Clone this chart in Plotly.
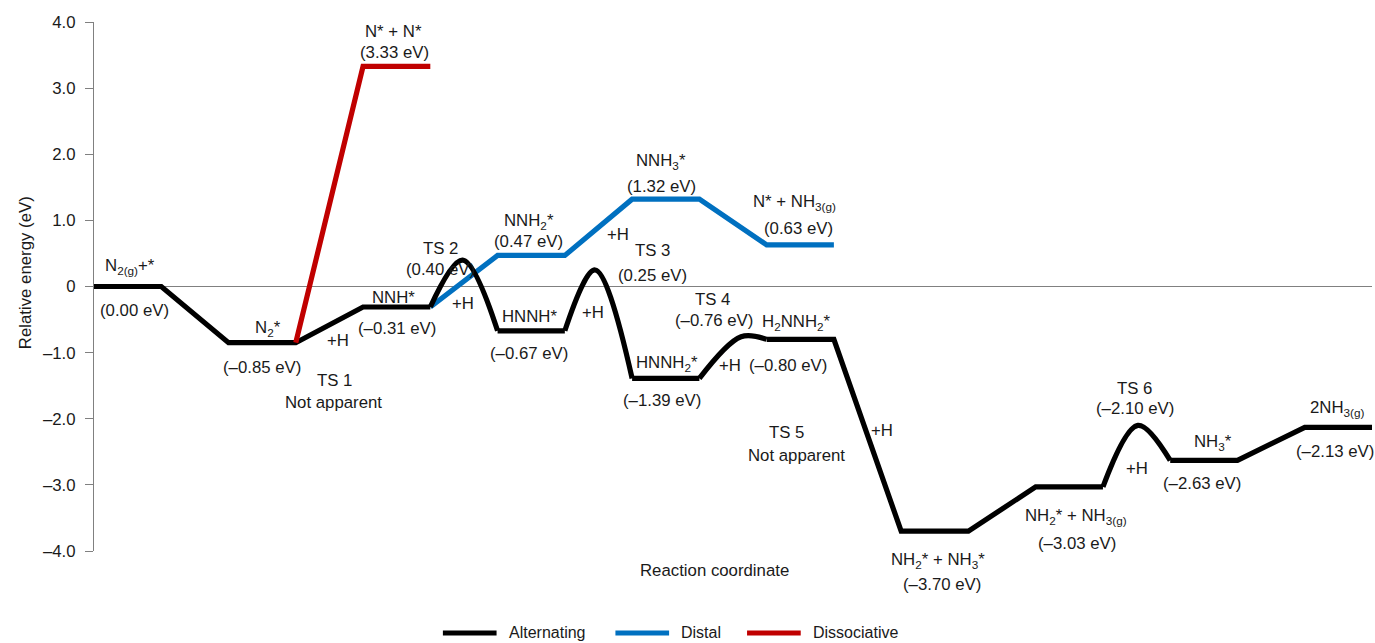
import plotly.graph_objects as go

# ---- Energies (eV) along the reaction coordinate ----
# Alternating pathway (black); peaks of transition states are listed in alt_ts
alt_x = [0, 1, 2, 3, 4, 5, 5.48, 6, 7, 7.45, 8, 9, 9.62, 10, 11, 12, 13, 14, 15, 15.52, 16, 17, 18, 19]
alt_e = [0.00, 0.00, -0.85, -0.85, -0.31, -0.31, 0.40, -0.67, -0.67, 0.25, -1.39, -1.39,
         -0.76, -0.80, -0.80, -3.70, -3.70, -3.03, -3.03, -2.10, -2.63, -2.63, -2.13, -2.13]
alt_ts = [6, 9, 12, 19]

# Distal pathway (blue)
distal_x = [5, 6, 7, 8, 9, 10, 11]
distal_e = [-0.31, 0.47, 0.47, 1.32, 1.32, 0.63, 0.63]

# Dissociative pathway (red)
dissoc_x = [3, 4, 5]
dissoc_e = [-0.85, 3.33, 3.33]

y_tickvals = [4, 3, 2, 1, 0, -1, -2, -3, -4]
y_ticktext = ["4.0", "3.0", "2.0", "1.0", "0", "–1.0", "–2.0", "–3.0", "–4.0"]

X_RANGE = [0, 19]
Y_RANGE = [-4, 4]

BLACK = "#000000"
BLUE = "#0070C0"
RED = "#C00000"
TXT = "#1a1a1a"
FONT = "Liberation Sans, Arial, sans-serif"
FS = 16.8
LW = 5.2


def ev(v):
    s = f"{abs(v):.2f}"
    return f"(–{s} eV)" if v < 0 else f"({s} eV)"


fig = go.Figure()


def add_line(xs, ys, color, shape="linear"):
    fig.add_trace(go.Scatter(
        x=xs, y=ys, mode="lines", showlegend=False, hoverinfo="skip",
        line=dict(color=color, width=LW, shape=shape, smoothing=1.0),
    ))


# Distal underneath, then alternating, then dissociative on top
add_line(distal_x, distal_e, BLUE)

# Alternating: straight segments between the transition-state humps, spline humps over the peaks
start = 0
for i in alt_ts:
    add_line(alt_x[start:i], alt_e[start:i], BLACK)
    add_line(alt_x[i - 1:i + 2], alt_e[i - 1:i + 2], BLACK, shape="spline")
    start = i + 1
add_line(alt_x[start:], alt_e[start:], BLACK)

add_line(dissoc_x, dissoc_e, RED)

# ---- Text labels (species, energies, steps), placed in data units ----
labels = [
    ("N<sub>2(g)</sub>+*", 0.54, 0.31),
    (ev(alt_e[0]), 0.60, -0.37),
    ("N<sub>2</sub>*", 2.58, -0.64),
    (ev(alt_e[2]), 2.50, -1.23),
    ("TS 1", 3.57, -1.42),
    ("Not apparent", 3.56, -1.75),
    ("+H", 3.63, -0.81),
    ("NNH*", 4.45, -0.17),
    (ev(alt_e[4]), 4.51, -0.63),
    ("N* + N*", 4.45, 3.85),
    (ev(dissoc_e[1]), 4.47, 3.54),
    ("TS 2", 5.15, 0.58),
    (ev(alt_e[6]), 5.15, 0.25),
    ("+H", 5.48, -0.25),
    ("NNH<sub>2</sub>*", 6.46, 0.98),
    (ev(distal_e[1]), 6.46, 0.68),
    ("HNNH*", 6.47, -0.46),
    (ev(alt_e[7]), 6.47, -1.01),
    ("+H", 7.42, -0.40),
    ("NNH<sub>3</sub>*", 8.43, 1.89),
    (ev(distal_e[3]), 8.43, 1.51),
    ("+H", 7.79, 0.78),
    ("TS 3", 8.31, 0.55),
    (ev(alt_e[9]), 8.31, 0.17),
    ("N* + NH<sub>3(g)</sub>", 10.42, 1.27),
    (ev(distal_e[5]), 10.47, 0.87),
    ("TS 4", 9.20, -0.20),
    (ev(alt_e[12]), 9.22, -0.52),
    ("H<sub>2</sub>NNH<sub>2</sub>*", 10.45, -0.54),
    ("HNNH<sub>2</sub>*", 8.52, -1.17),
    (ev(alt_e[10]), 8.44, -1.72),
    ("+H", 9.46, -1.19),
    (ev(alt_e[13]), 10.32, -1.19),
    ("TS 5", 10.29, -2.21),
    ("Not apparent", 10.45, -2.56),
    ("+H", 11.72, -2.18),
    ("NH<sub>2</sub>* + NH<sub>3</sub>*", 12.55, -4.15),
    (ev(alt_e[15]), 12.60, -4.50),
    ("NH<sub>2</sub>* + NH<sub>3(g)</sub>", 14.60, -3.48),
    (ev(alt_e[17]), 14.62, -3.89),
    ("TS 6", 15.47, -1.54),
    (ev(alt_e[19]), 15.47, -1.85),
    ("+H", 15.50, -2.75),
    ("NH<sub>3</sub>*", 16.63, -2.36),
    (ev(alt_e[20]), 16.47, -2.98),
    ("2NH<sub>3(g)</sub>", 18.49, -1.85),
    (ev(alt_e[22]), 18.45, -2.50),
    ("Reaction coordinate", 9.22, -4.29),
]


def to_paper(x, y):
    px = (x - X_RANGE[0]) / (X_RANGE[1] - X_RANGE[0])
    py = (y - Y_RANGE[0]) / (Y_RANGE[1] - Y_RANGE[0])
    return px, py


# Paper coordinates keep labels below the axis range visible
annotations = []
for t, x, y in labels:
    px, py = to_paper(x, y)
    annotations.append(dict(text=t, x=px, y=py, xref="paper", yref="paper", showarrow=False,
                            xanchor="center", yanchor="middle",
                            font=dict(family=FONT, size=FS, color=TXT)))

annotations.append(dict(text="Relative energy (eV)", x=-0.054, y=0.527, xref="paper", yref="paper",
                        showarrow=False, textangle=-90, xanchor="center", yanchor="middle",
                        font=dict(family=FONT, size=FS, color=TXT)))

# Legend drawn below the axes
legend_items = [("Alternating", BLACK, 0.273), ("Distal", BLUE, 0.408), ("Dissociative", RED, 0.511)]
shapes = []
LEG_Y = -0.155
for name, color, x0 in legend_items:
    shapes.append(dict(type="line", xref="paper", yref="paper", x0=x0, x1=x0 + 0.042,
                       y0=LEG_Y, y1=LEG_Y, line=dict(color=color, width=LW)))
    annotations.append(dict(text=name, x=x0 + 0.050, y=LEG_Y, xref="paper", yref="paper",
                            showarrow=False, xanchor="left", yanchor="middle",
                            font=dict(family=FONT, size=16, color=TXT)))

fig.update_layout(
    width=1375, height=643,
    margin=dict(l=94, r=3, t=22, b=92),
    paper_bgcolor="white", plot_bgcolor="white",
    showlegend=False,
    annotations=annotations,
    shapes=shapes,
    xaxis=dict(range=X_RANGE, visible=False),
    yaxis=dict(
        range=Y_RANGE, tickvals=y_tickvals, ticktext=y_ticktext,
        ticks="outside", ticklen=8, tickcolor="#808080", tickwidth=1,
        showline=True, linecolor="#808080", linewidth=1,
        showgrid=False, zeroline=True, zerolinecolor="#808080", zerolinewidth=1,
        tickfont=dict(family=FONT, size=FS, color=TXT),
        ticklabelstandoff=6,
    ),
)

fig.write_html("out.html")
